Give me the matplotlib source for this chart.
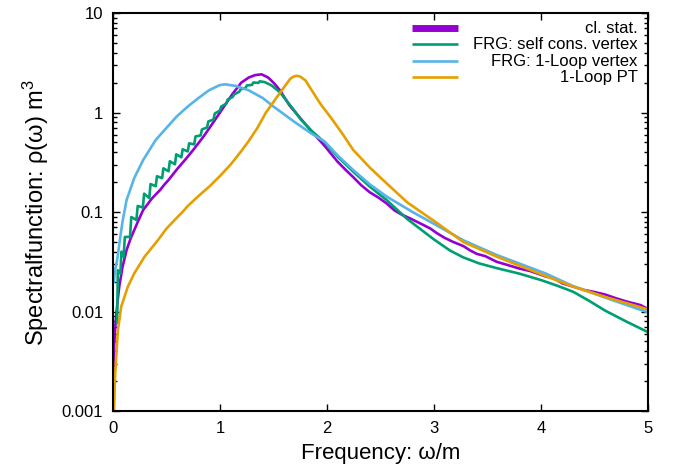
import numpy as np
import matplotlib
matplotlib.use("Agg")
import matplotlib.pyplot as plt
from matplotlib.ticker import LogLocator, NullFormatter, FixedLocator

plt.rcParams['font.family'] = ['Liberation Sans', 'DejaVu Sans']
plt.rcParams['mathtext.fontset'] = 'custom'
plt.rcParams['mathtext.rm'] = 'Liberation Sans'
plt.rcParams['mathtext.it'] = 'Liberation Sans'

# ---- data ----
# classical statistical simulation
cl_x = [0.008, 0.012, 0.020, 0.030, 0.045, 0.060, 0.090, 0.128, 0.165, 0.200, 0.240,
        0.283, 0.320, 0.360, 0.400, 0.440, 0.480, 0.520, 0.560, 0.600, 0.680, 0.750,
        0.850, 0.953, 1.050, 1.120, 1.200, 1.270, 1.330, 1.390, 1.450, 1.500, 1.560,
        1.650, 1.750, 1.860, 1.980, 2.100, 2.180, 2.246, 2.320, 2.400, 2.480, 2.558,
        2.630, 2.700, 2.780, 2.870, 2.963, 3.030, 3.100, 3.180, 3.274, 3.340, 3.400,
        3.480, 3.586, 3.680, 3.800, 3.900, 4.040, 4.120, 4.200, 4.300, 4.400, 4.500,
        4.600, 4.700, 4.800, 4.930, 5.000]
cl_y = [0.001, 0.0045, 0.0065, 0.0089, 0.013, 0.018, 0.028, 0.0415, 0.054, 0.066, 0.083,
        0.105, 0.118, 0.135, 0.150, 0.166, 0.188, 0.210, 0.238, 0.270, 0.340, 0.420,
        0.580, 0.840, 1.200, 1.550, 2.000, 2.250, 2.380, 2.420, 2.250, 2.000, 1.680,
        1.180, 0.880, 0.640, 0.460, 0.320, 0.262, 0.224, 0.186, 0.158, 0.140, 0.122,
        0.104, 0.094, 0.086, 0.077, 0.0686, 0.061, 0.055, 0.050, 0.0455, 0.041, 0.038,
        0.036, 0.0316, 0.0295, 0.027, 0.0255, 0.0226, 0.0215, 0.0192, 0.0178, 0.0165, 0.0157,
        0.0148, 0.0136, 0.0126, 0.0116, 0.0106]

# FRG with self consistent vertex (saw-tooth at low frequency)
frg_sc_x = [0.040, 0.046, 0.070, 0.080, 0.100, 0.112, 0.160, 0.172, 0.220, 0.232,
            0.280, 0.292, 0.340, 0.352, 0.400, 0.412, 0.460, 0.472, 0.520, 0.532,
            0.580, 0.592, 0.640, 0.652, 0.700, 0.712, 0.760, 0.772, 0.820, 0.832,
            0.880, 0.892, 0.940, 0.952, 1.000, 1.012, 1.060, 1.072, 1.120, 1.132,
            1.180, 1.192, 1.240, 1.252, 1.300, 1.312, 1.360, 1.372, 1.420, 1.480,
            1.560, 1.680, 1.760, 1.860, 1.980, 2.100, 2.246, 2.400, 2.558, 2.750,
            3.000, 3.150, 3.274, 3.420, 3.586, 3.800, 4.000, 4.150, 4.300, 4.450,
            4.600, 4.800, 5.000]
frg_sc_y = [0.0077, 0.026, 0.024, 0.040, 0.0355, 0.0562, 0.0562, 0.0891, 0.0832, 0.115,
            0.111, 0.153, 0.138, 0.191, 0.182, 0.229, 0.219, 0.275, 0.257, 0.324,
            0.302, 0.380, 0.355, 0.427, 0.407, 0.490, 0.479, 0.575, 0.589, 0.676,
            0.708, 0.813, 0.851, 0.977, 1.047, 1.148, 1.230, 1.349, 1.439, 1.521,
            1.614, 1.706, 1.770, 1.871, 1.897, 2.004, 1.986, 2.060, 2.020, 1.880,
            1.600, 1.100, 0.840, 0.650, 0.500, 0.360, 0.254, 0.180, 0.132, 0.085,
            0.053, 0.041, 0.0350, 0.0305, 0.0273, 0.0240, 0.0207, 0.0182, 0.0158, 0.0128,
            0.0102, 0.0079, 0.0062]

# FRG with 1-loop vertex
frg_1l_x = [0.010, 0.020, 0.040, 0.065, 0.090, 0.128, 0.200, 0.283, 0.400, 0.500,
            0.595, 0.700, 0.800, 0.900, 1.000, 1.050, 1.150, 1.265, 1.400, 1.500,
            1.577, 1.700, 1.850, 1.980, 2.100, 2.246, 2.400, 2.558, 2.800, 3.010,
            3.274, 3.586, 4.040, 4.300, 4.600, 5.000]
frg_1l_y = [0.020, 0.026, 0.033, 0.052, 0.080, 0.132, 0.220, 0.333, 0.530, 0.700,
            0.910, 1.150, 1.400, 1.680, 1.890, 1.920, 1.850, 1.680, 1.400, 1.150,
            1.000, 0.800, 0.620, 0.510, 0.370, 0.264, 0.190, 0.143, 0.100, 0.075,
            0.052, 0.037, 0.0242, 0.0180, 0.0138, 0.0098]

# 1-loop perturbation theory
pt_x = [0.010, 0.020, 0.031, 0.047, 0.078, 0.140, 0.200, 0.296, 0.420, 0.500,
        0.595, 0.650, 0.700, 0.800, 0.900, 1.000, 1.100, 1.200, 1.265, 1.350,
        1.430, 1.514, 1.600, 1.660, 1.690, 1.717, 1.750, 1.800, 1.857, 1.935,
        2.050, 2.150, 2.246, 2.400, 2.558, 2.750, 3.010, 3.274, 3.586, 4.040,
        4.300, 4.610, 5.000]
pt_y = [0.001, 0.0022, 0.0035, 0.0065, 0.0112, 0.0178, 0.0242, 0.0356, 0.052, 0.068,
        0.087, 0.100, 0.115, 0.145, 0.180, 0.230, 0.300, 0.410, 0.510, 0.700,
        1.000, 1.340, 1.800, 2.200, 2.300, 2.340, 2.300, 2.100, 1.680, 1.240,
        0.850, 0.600, 0.420, 0.280, 0.194, 0.125, 0.080, 0.050, 0.0356, 0.0228,
        0.0178, 0.0139, 0.0105]

labels = ['cl. stat.', 'FRG: self cons. vertex', 'FRG: 1-Loop vertex', '1-Loop PT']
colors = ['#9400D3', '#009E73', '#56B4E9', '#E69F00']

fig = plt.figure(figsize=(6.8, 4.66), dpi=100)
ax = fig.add_axes([0.166, 0.118, 0.787, 0.854])

lw = 1.9
ax.plot(cl_x, cl_y, color=colors[0], lw=lw)
ax.plot(frg_sc_x, frg_sc_y, color=colors[1], lw=lw)
ax.plot(frg_1l_x, frg_1l_y, color=colors[2], lw=lw)
ax.plot(pt_x, pt_y, color=colors[3], lw=lw)

ax.set_yscale('log')
ax.set_xlim(0, 5)
ax.set_ylim(0.001, 10)
ax.xaxis.set_major_locator(FixedLocator([0, 1, 2, 3, 4, 5]))
ax.set_yticks([0.001, 0.01, 0.1, 1, 10])
ax.set_yticklabels(['0.001', '0.01', '0.1', '1', '10'])
ax.yaxis.set_minor_locator(LogLocator(base=10, subs=np.arange(2, 10)))
ax.yaxis.set_minor_formatter(NullFormatter())

ax.tick_params(which='both', direction='in', top=True, right=True,
               labelsize=12, width=1.0)
ax.tick_params(which='major', length=5, pad=7)
ax.tick_params(which='minor', length=3)
for s in ax.spines.values():
    s.set_linewidth(1.5)

ax.set_xlabel('Frequency: ω/m', fontsize=16, labelpad=5)
ax.set_ylabel(r'Spectralfunction: ρ(ω) m$^3$', fontsize=17, labelpad=8)

# legend drawn by hand: sample line on the left, text right-aligned (gnuplot style)
leg_rows = [0.962, 0.921, 0.879, 0.839]
leg_lw = [5.0, lw, lw, lw]
for lab, col, yy, w in zip(labels, colors, leg_rows, leg_lw):
    ax.plot([0.559, 0.645], [yy, yy], transform=ax.transAxes, color=col, lw=w,
            solid_capstyle='butt')
    ax.text(0.981, yy, lab, transform=ax.transAxes, ha='right', va='center',
            fontsize=12)

fig.savefig('out.png', dpi=100)
